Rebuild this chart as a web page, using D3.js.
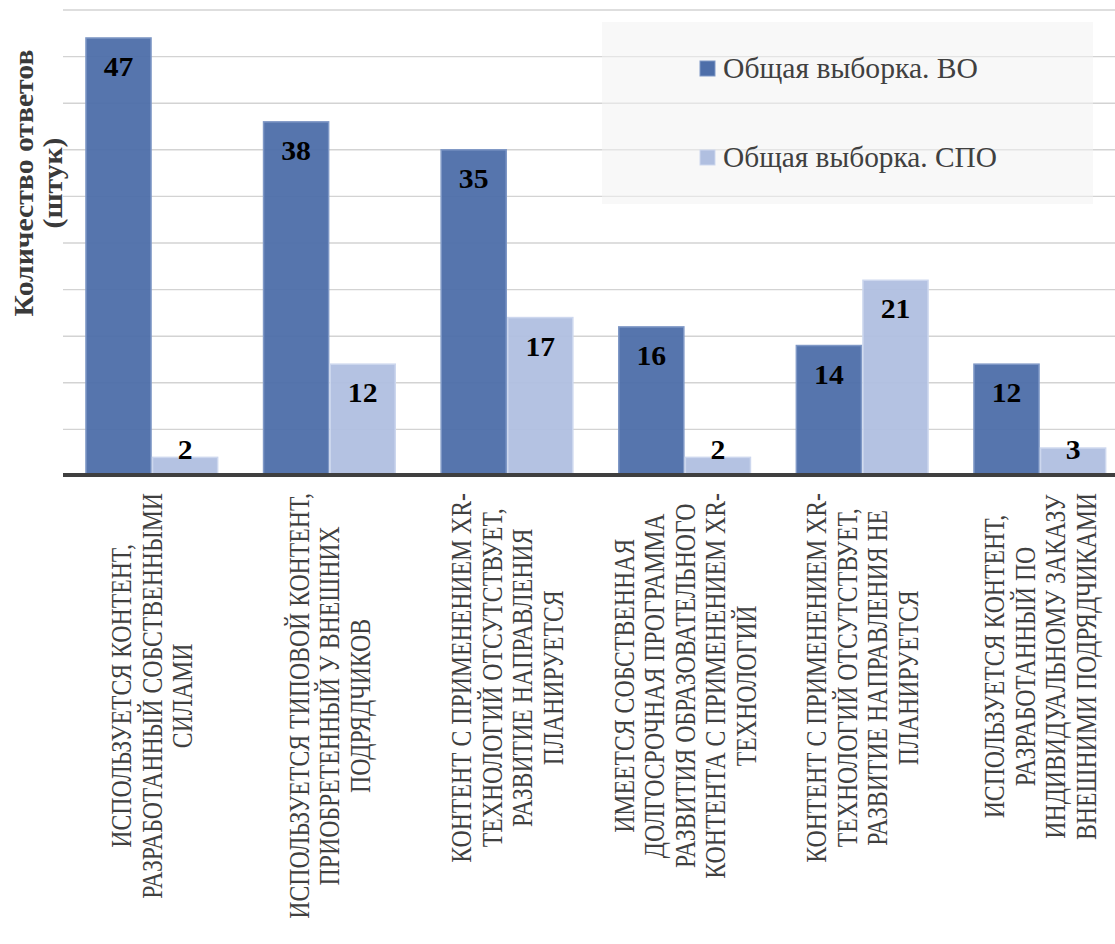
<!DOCTYPE html>
<html>
<head>
<meta charset="utf-8">
<script src="https://cdn.jsdelivr.net/npm/d3@7"></script>
<style>
  html, body { margin: 0; padding: 0; background: #fff; }
  svg { display: block; }
</style>
</head>
<body>
<svg id="chart" width="1115" height="944"></svg>
<script>
// ---- data ----
const categories = [
  ["ИСПОЛЬЗУЕТСЯ КОНТЕНТ,", "РАЗРАБОТАННЫЙ СОБСТВЕННЫМИ", "СИЛАМИ"],
  ["ИСПОЛЬЗУЕТСЯ ТИПОВОЙ КОНТЕНТ,", "ПРИОБРЕТЕННЫЙ У ВНЕШНИХ", "ПОДРЯДЧИКОВ"],
  ["КОНТЕНТ С ПРИМЕНЕНИЕМ XR-", "ТЕХНОЛОГИЙ ОТСУТСТВУЕТ,", "РАЗВИТИЕ НАПРАВЛЕНИЯ", "ПЛАНИРУЕТСЯ"],
  ["ИМЕЕТСЯ СОБСТВЕННАЯ", "ДОЛГОСРОЧНАЯ ПРОГРАММА", "РАЗВИТИЯ ОБРАЗОВАТЕЛЬНОГО", "КОНТЕНТА С ПРИМЕНЕНИЕМ XR-", "ТЕХНОЛОГИЙ"],
  ["КОНТЕНТ С ПРИМЕНЕНИЕМ XR-", "ТЕХНОЛОГИЙ ОТСУТСТВУЕТ,", "РАЗВИТИЕ НАПРАВЛЕНИЯ НЕ", "ПЛАНИРУЕТСЯ"],
  ["ИСПОЛЬЗУЕТСЯ КОНТЕНТ,", "РАЗРАБОТАННЫЙ ПО", "ИНДИВИДУАЛЬНОМУ ЗАКАЗУ", "ВНЕШНИМИ ПОДРЯДЧИКАМИ"]
];
const seriesNames = ["Общая выборка. ВО", "Общая выборка. СПО"];
const valuesVO  = [47, 38, 35, 16, 14, 12];
const valuesSPO = [2, 12, 17, 2, 21, 3];
const gridTicks = [5, 10, 15, 20, 25, 30, 35, 40, 45, 50];
const yTitle = ["Количество ответов", "(штук)"];

// ---- layout / style ----
const colors = ["#4d6ea9", "#b0bfe0"];
const strokes = ["#7f98c6", "#cdd7ee"];
const plotLeft = 63, plotRight = 1128.6, plotTop = 10, plotBottom = 476;
const serif = "'Liberation Serif', 'DejaVu Serif', serif";

const svg = d3.select("#chart");
const series = [valuesVO, valuesSPO];
const idx = d3.range(categories.length);

const x = d3.scaleBand().domain(idx).range([plotLeft, plotRight])
  .paddingInner(0.25).paddingOuter(0.125);
const xs = d3.scaleBand().domain([0, 1]).range([0, x.bandwidth()]);
const y = d3.scaleLinear().domain([0, 50]).range([plotBottom, plotTop]);

// gridlines
svg.append("g").selectAll("line").data(gridTicks).join("line")
  .attr("x1", plotLeft).attr("x2", 1115)
  .attr("y1", d => y(d)).attr("y2", d => y(d))
  .attr("stroke", "#d3d3d3").attr("stroke-width", 1.4);

// legend background (semi transparent)
const legend = svg.append("g");
legend.append("rect").attr("x", 602).attr("y", 22).attr("width", 491).attr("height", 182)
  .attr("fill", "#f2f2f2").attr("fill-opacity", 0.55);

// bars
series.forEach((vals, s) => {
  svg.append("g").selectAll("rect").data(idx).join("rect")
    .attr("x", i => x(i) + xs(s) + 0.75)
    .attr("y", i => y(vals[i]))
    .attr("width", xs.bandwidth() - 1.5)
    .attr("height", i => y(0) - y(vals[i]))
    .attr("fill", colors[s]).attr("fill-opacity", 0.95)
    .attr("stroke", strokes[s]).attr("stroke-width", 1.5);
});

// baseline
svg.append("line").attr("x1", plotLeft).attr("x2", 1115)
  .attr("y1", y(0) - 1).attr("y2", y(0) - 1)
  .attr("stroke", "#3f3f3f").attr("stroke-width", 4);

// data labels
series.forEach((vals, s) => {
  svg.append("g").selectAll("text").data(idx).join("text")
    .attr("transform", i => {
      const cx = x(i) + xs(s) + xs.bandwidth() / 2;
      const by = Math.min(y(vals[i]) + 38, y(0) - 17);
      return `translate(${cx},${by}) scale(1.1,1)`;
    })
    .attr("text-anchor", "middle")
    .attr("font-family", serif).attr("font-weight", "bold")
    .attr("font-size", 27).attr("fill", "#000")
    .text(i => vals[i]);
});

// category labels (rotated, lines centered, block top at fixed y)
const catScale = 0.82, catSize = 29, catLine = 30.5, catTop = 493;
idx.forEach(i => {
  const lines = categories[i];
  const g = svg.append("g")
    .attr("transform", `translate(${x(i) + x.bandwidth() / 2},${catTop}) rotate(-90) scale(${catScale},1)`);
  const texts = g.selectAll("text").data(lines).join("text")
    .attr("text-anchor", "middle")
    .attr("font-family", serif).attr("font-size", catSize)
    .attr("fill", "#404040")
    .attr("y", (d, k) => (k - (lines.length - 1) / 2) * catLine + 10)
    .text(d => d);
  let maxW = 0;
  texts.each(function () { maxW = Math.max(maxW, this.getComputedTextLength()); });
  texts.attr("x", -maxW / 2);
});

// y-axis title
const yt = svg.append("g").attr("transform", "translate(0,183) rotate(-90) scale(1.06,1)");
yt.selectAll("text").data(yTitle).join("text")
  .attr("text-anchor", "middle")
  .attr("y", (d, k) => 33 + k * 29)
  .attr("font-family", serif).attr("font-weight", "bold")
  .attr("font-size", 28).attr("fill", "#3a3a3a")
  .text(d => d);

// legend items
const legY = [69, 158];
seriesNames.forEach((name, s) => {
  legend.append("rect").attr("x", 700).attr("y", legY[s] - 8).attr("width", 15).attr("height", 15)
    .attr("fill", colors[s]).attr("stroke", strokes[s]).attr("stroke-width", 1);
  legend.append("text").attr("x", 723).attr("y", legY[s] + 9)
    .attr("font-family", serif).attr("font-size", 29).attr("fill", "#404040")
    .attr("textLength", s === 0 ? 255 : 274).attr("lengthAdjust", "spacingAndGlyphs")
    .text(name);
});
</script>
</body>
</html>
